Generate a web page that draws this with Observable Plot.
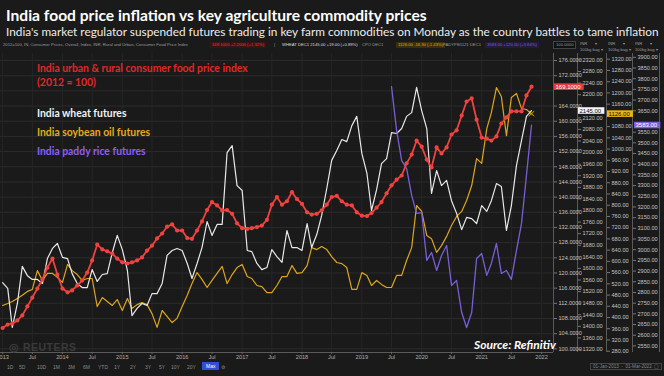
<!DOCTYPE html>
<html><head><meta charset="utf-8">
<script src="https://cdn.jsdelivr.net/npm/d3@7"></script>
<script src="https://cdn.jsdelivr.net/npm/@observablehq/plot@0.6"></script>
<style>
html,body{margin:0;padding:0;background:#1a1a1a;width:664px;height:376px;overflow:hidden;font-family:Lato,"Open Sans",sans-serif;position:relative;}
.abs{position:absolute;white-space:nowrap;}
#title{left:6px;top:6px;font-size:15.6px;font-weight:700;color:#fff;}
#subtitle{left:6px;top:24px;font-size:11.8px;color:#ececec;}
.hdr{top:42px;font-size:4.2px;color:#9a9a9a;font-family:"Liberation Sans",sans-serif;line-height:6px;}
.hbox{border:1px solid #444;background:#111;padding:0 2px;}
.leg{font-size:10.4px;font-weight:700;}
#chart{position:absolute;left:0;top:53px;}
.tb{top:364px;font-size:5px;color:#888;font-family:"Liberation Sans",sans-serif;}
</style></head><body>
<div id="title" class="abs">India food price inflation vs key agriculture commodity prices</div>
<div id="subtitle" class="abs">India's market regulator suspended futures trading in key farm commodities on Monday as the country battles to tame inflation</div>

<div class="abs hdr" style="left:3px;">2012=100, IN, Consumer Prices, Overall, Index, INR, Rural and Urban, Consumer Food Price Index</div>
<div class="abs hdr" style="left:210px;color:#e23a3a;background:#3a1414;padding:0 2px;">169.1000 +2.2000 (+1.32%)</div>
<div class="abs hdr" style="left:274px;">|</div>
<div class="abs hdr" style="left:282px;color:#ddd;">WHEAT DEC1 2145.00 +19.00 (+0.89%)</div>
<div class="abs hdr" style="left:362px;">CPO DEC1</div>
<div class="abs hdr" style="left:396px;color:#e0a91c;background:#3a2e0c;padding:0 2px;">1126.00 -16.30 (-1.43%)</div>
<div class="abs hdr" style="left:443px;">PADYPB1121 DEC1</div>
<div class="abs hdr" style="left:485px;color:#7a5fd6;background:#231b3a;padding:0 2px;">3583.00 +120.00 (+3.84%)</div>
<div class="abs hdr hbox" style="left:553px;top:41px;">100.0000</div>
<div class="abs hdr" style="left:580px;top:41px;">INR &nbsp;&nbsp;&nbsp;&nbsp;&nbsp;&nbsp;▾<br>100kg bag ▾</div>
<div class="abs hdr" style="left:608px;top:41px;">INR &nbsp;&nbsp;&nbsp;&nbsp;&nbsp;&nbsp;▾<br>100kg bag ▾</div>
<div class="abs hdr" style="left:635px;top:41px;">INR &nbsp;&nbsp;&nbsp;&nbsp;&nbsp;&nbsp;▾<br>100kg bag ▾</div>

<div id="chart"></div>

<div class="abs leg" style="left:37px;top:61px;color:#e02828;line-height:14px;">India urban &amp; rural consumer food price index<br>(2012 = 100)</div>
<div class="abs leg" style="left:37px;top:107px;color:#f2f2f2;">India wheat futures</div>
<div class="abs leg" style="left:37px;top:126px;color:#e3ad1e;">India soybean oil futures</div>
<div class="abs leg" style="left:37px;top:145px;color:#8e5ef2;">India paddy rice futures</div>

<div class="abs" style="left:9px;top:341px;font-size:10.5px;font-weight:700;color:#3a3a3a;font-family:'Liberation Sans',sans-serif;letter-spacing:0.5px;">◎ REUTERS</div>
<div class="abs" style="left:474px;top:337px;font-size:12px;font-weight:700;font-style:italic;color:#fff;">Source: Refinitiv</div>

<div class="abs tb" style="left:7px;">1D</div>
<div class="abs tb" style="left:19px;">5D</div>
<div class="abs tb" style="left:37px;">10D</div>
<div class="abs tb" style="left:53px;">1M</div>
<div class="abs tb" style="left:68px;">3M</div>
<div class="abs tb" style="left:83px;">6M</div>
<div class="abs tb" style="left:98px;">YTD</div>
<div class="abs tb" style="left:114px;">1Y</div>
<div class="abs tb" style="left:130px;">2Y</div>
<div class="abs tb" style="left:145px;">3Y</div>
<div class="abs tb" style="left:159px;">5Y</div>
<div class="abs tb" style="left:171px;">10Y</div>
<div class="abs tb" style="left:187px;">20Y</div>
<div class="abs tb" style="left:202px;top:362px;background:#2f4fd8;color:#fff;padding:1px 4px;">Max</div>
<div class="abs tb" style="left:221px;">⚙</div>
<div class="abs tb" style="left:590px;border:1px solid #444;padding:0 2px;top:363px;font-size:4.6px;">01-Jan-2013 &nbsp;- &nbsp;01-Mar-2022 &nbsp;▢</div>

<script>
// ---- Data (monthly, first value = Jan 2013) ----
const cpiValues = [105.5,106.4,106.7,107.5,108.8,111.2,113.5,115.9,118.3,121.4,123.8,119.6,115.9,114.9,115.4,116.7,118.0,120.1,123.3,127.5,126.2,125.7,125.1,123.8,122.8,122.5,122.8,123.3,124.1,125.9,127.2,129.1,130.4,132.2,132.8,131.2,131.2,129.2,129.0,131.2,133.6,136.6,138.7,137.8,136.5,136.6,135.6,133.1,131.8,131.6,131.8,132.1,132.5,134.0,138.0,140.0,138.0,138.9,141.3,139.5,138.2,136.0,135.4,135.6,136.5,138.0,140.0,140.3,138.9,138.0,137.8,136.0,135.1,135.0,135.8,137.2,138.7,141.0,143.1,144.6,145.7,148.9,151.2,154.9,153.3,149.9,147.8,153.1,151.5,153.1,156.5,157.6,161.5,165.2,166.0,160.4,155.7,155.4,154.9,156.0,159.4,161.0,162.6,162.6,162.6,166.8,169.1];
const wheatValues = [1551,1531,1396,1479,1607,1575,1562,1562,1548,1634,1669,1686,1638,1634,1582,1548,1534,1534,1596,1555,1579,1582,1655,1714,1665,1593,1437,1462,1479,1472,1513,1513,1548,1645,1662,1669,1662,1617,1565,1617,1672,1762,1714,1752,1752,2000,2024,1886,1869,1662,1658,1617,1596,1603,1665,1641,1621,1731,1672,1672,1662,1755,1672,1717,1783,1876,1973,2007,2045,2038,2093,2125,1997,1928,1800,1872,1962,1979,2069,2066,2083,2125,2138,2225,2145,2083,1859,1938,1886,1904,1834,1790,1734,1776,1772,1755,1817,1797,1834,1893,1883,1731,1817,1955,2042,2125,2145];
const soyValues = [443,450,457,468,479,493,500,567,532,557,557,543,525,589,567,553,532,539,539,439,471,457,443,464,425,468,432,446,453,446,414,365,425,404,382,397,439,479,521,560,536,507,532,557,582,521,553,578,589,546,539,514,510,489,489,514,546,546,585,557,560,585,649,642,653,642,617,596,592,578,500,500,560,550,514,532,518,507,507,550,550,603,649,799,778,692,681,632,656,689,728,760,778,817,870,966,949,1073,1130,1219,1187,1048,1184,1198,1144,1141,1126];
// paddy rice starts Jul 2019 (month index 78)
const riceStart = 78;
const riceValues = [3763,3558,3417,3380,3254,3170,3174,2950,2987,2903,2973,3020,2833,2856,2706,2636,2706,2959,2982,2880,2936,3029,2889,2903,2861,2996,3123,3347,3583];

// Axis tick values
const cpiTicks = d3.range(100, 177, 4);
const wheatTicks = d3.range(1320, 2321, 40);
const soyTicks = d3.range(280, 1321, 40);
const riceTicks = d3.range(2550, 3901, 50);

// Secondary axes aligned to the primary (CPI) axis
const wheatToCpi = d3.scaleLinear().domain([1320, 2320]).range([99.83, 176.16]);
const soyToCpi = d3.scaleLinear().domain([280, 1320]).range([99.38, 176.34]);
const riceToCpi = d3.scaleLinear().domain([2550, 3850]).range([100.78, 174.02]);

const monthDate = i => new Date(Date.UTC(2013, i, 1));
const cpi = cpiValues.map((v, i) => ({date: monthDate(i), v}));
const wheat = wheatValues.map((v, i) => ({date: monthDate(i), v: wheatToCpi(v), raw: v}));
const soy = soyValues.map((v, i) => ({date: monthDate(i), v: soyToCpi(v), raw: v}));
const rice = riceValues.map((v, i) => ({date: monthDate(riceStart + i), v: riceToCpi(v), raw: v}));

const xTicks = [];
for (let y = 2013; y <= 2022; y++) { xTicks.push(new Date(Date.UTC(y, 0, 1))); if (y < 2022) xTicks.push(new Date(Date.UTC(y, 6, 1))); }

const RED = "#f0423e", WHITE = "#e8e8e8", YELLOW = "#dca61c", PURPLE = "#7a5ed8";
const axisCol = "#c4c4c4";
const axisFont = 5.6;

const xDomain = [new Date(Date.UTC(2012, 11, 19)), new Date(Date.UTC(2022, 2, 15))];
const yDomain = [99.04, 177.85];

const fmt4 = v => v.toFixed(4);
const axisOpts = {anchor: "right", tickSize: 3, tickPadding: 2, fontSize: axisFont, fill: axisCol, stroke: "#777", label: null};
// tick labels hidden behind a last-value box (about 1.3 CPI units = 5px)
const clear = (ticks, last) => ticks.filter(t => Math.abs(t - last) > 1.3);

const lastCpi = cpi[cpi.length - 1], lastWheat = wheat[wheat.length - 1], lastSoy = soy[soy.length - 1], lastRice = rice[rice.length - 1];

const chart = Plot.plot({
  width: 664, height: 309,
  marginLeft: 0, marginRight: 111, marginTop: 0, marginBottom: 10,
  style: {background: "transparent", color: axisCol, fontFamily: "'Liberation Sans', sans-serif", fontSize: axisFont + "px", overflow: "visible"},
  x: {type: "utc", domain: xDomain},
  y: {domain: yDomain},
  marks: [
    Plot.gridY(cpiTicks, {stroke: "#2b2b2b", strokeOpacity: 1}),
    Plot.gridX(xTicks, {stroke: "#262626", strokeOpacity: 1}),
    Plot.ruleY([yDomain[0]], {stroke: "#5a5a5a"}),
    Plot.ruleX([xDomain[1]], {stroke: "#5a5a5a"}),
    Plot.ruleX([xDomain[1]], {stroke: "#5a5a5a", dx: 24}),
    Plot.ruleX([xDomain[1]], {stroke: "#5a5a5a", dx: 53}),
    Plot.ruleX([xDomain[1]], {stroke: "#5a5a5a", dx: 79}),
    Plot.ruleX([xDomain[1]], {stroke: "#5a5a5a", dx: 106}),
    Plot.line(soy, {x: "date", y: "v", stroke: YELLOW, strokeWidth: 1.2}),
    Plot.line(wheat, {x: "date", y: "v", stroke: WHITE, strokeWidth: 1.2}),
    Plot.line(rice, {x: "date", y: "v", stroke: PURPLE, strokeWidth: 1.3}),
    Plot.line(cpi, {x: "date", y: "v", stroke: RED, strokeWidth: 1.8}),
    Plot.dot(cpi, {x: "date", y: "v", r: 2.1, fill: RED}),
    Plot.dot([lastSoy], {x: "date", y: "v", symbol: "times", r: 2.5, stroke: YELLOW, strokeWidth: 1}),
    Plot.axisX(xTicks, {tickSize: 2, tickPadding: 1, fontSize: axisFont, fill: "#b0b0b0", stroke: "#666", label: null,
      tickFormat: d => d.getUTCMonth() === 0 ? String(d.getUTCFullYear()) : "Jul"}),
    Plot.axisY(clear(cpiTicks, lastCpi.v), {...axisOpts, tickFormat: fmt4}),
    Plot.axisY(clear(wheatTicks.map(wheatToCpi), lastWheat.v), {...axisOpts, dx: 24, tickFormat: v => Math.round(wheatToCpi.invert(v)).toFixed(2)}),
    Plot.axisY(clear(soyTicks.map(soyToCpi), lastSoy.v), {...axisOpts, dx: 53, tickFormat: v => Math.round(soyToCpi.invert(v)).toFixed(2)}),
    Plot.axisY(clear(riceTicks.map(riceToCpi), lastRice.v), {...axisOpts, dx: 79, tickFormat: v => Math.round(riceToCpi.invert(v)).toFixed(2)}),
    Plot.text([lastCpi], {y: "v", frameAnchor: "right", dx: 2, textAnchor: "start", text: d => fmt4(d.v), fill: "#fff", fontSize: 6}),
    Plot.text([lastWheat], {y: "v", frameAnchor: "right", dx: 26, textAnchor: "start", text: d => d.raw.toFixed(2), fill: "#111", fontSize: 6}),
    Plot.text([lastSoy], {y: "v", frameAnchor: "right", dx: 55, textAnchor: "start", text: d => d.raw.toFixed(2), fill: "#111", fontSize: 6}),
    Plot.text([lastRice], {y: "v", frameAnchor: "right", dx: 82, textAnchor: "start", text: d => d.raw.toFixed(2), fill: "#fff", fontSize: 6})
  ]
});
document.getElementById("chart").appendChild(chart);

// value boxes behind the last-value labels
const boxFill = {};
boxFill[fmt4(lastCpi.v)] = "#e23c3c";
boxFill[lastWheat.raw.toFixed(2)] = "#f4f4f4";
boxFill[lastSoy.raw.toFixed(2)] = "#e8b710";
boxFill[lastRice.raw.toFixed(2)] = "#7b5fe0";
chart.querySelectorAll("text").forEach(el => {
  const fill = boxFill[el.textContent];
  if (!fill) return;
  const b = el.getBBox();
  const r = document.createElementNS("http://www.w3.org/2000/svg", "rect");
  r.setAttribute("x", b.x - 1.5); r.setAttribute("y", b.y - 0.3);
  r.setAttribute("width", b.width + 4); r.setAttribute("height", b.height + 0.6);
  r.setAttribute("fill", fill);
  const t = el.getAttribute("transform"); if (t) r.setAttribute("transform", t);
  el.parentNode.insertBefore(r, el);
});
</script>
</body></html>
